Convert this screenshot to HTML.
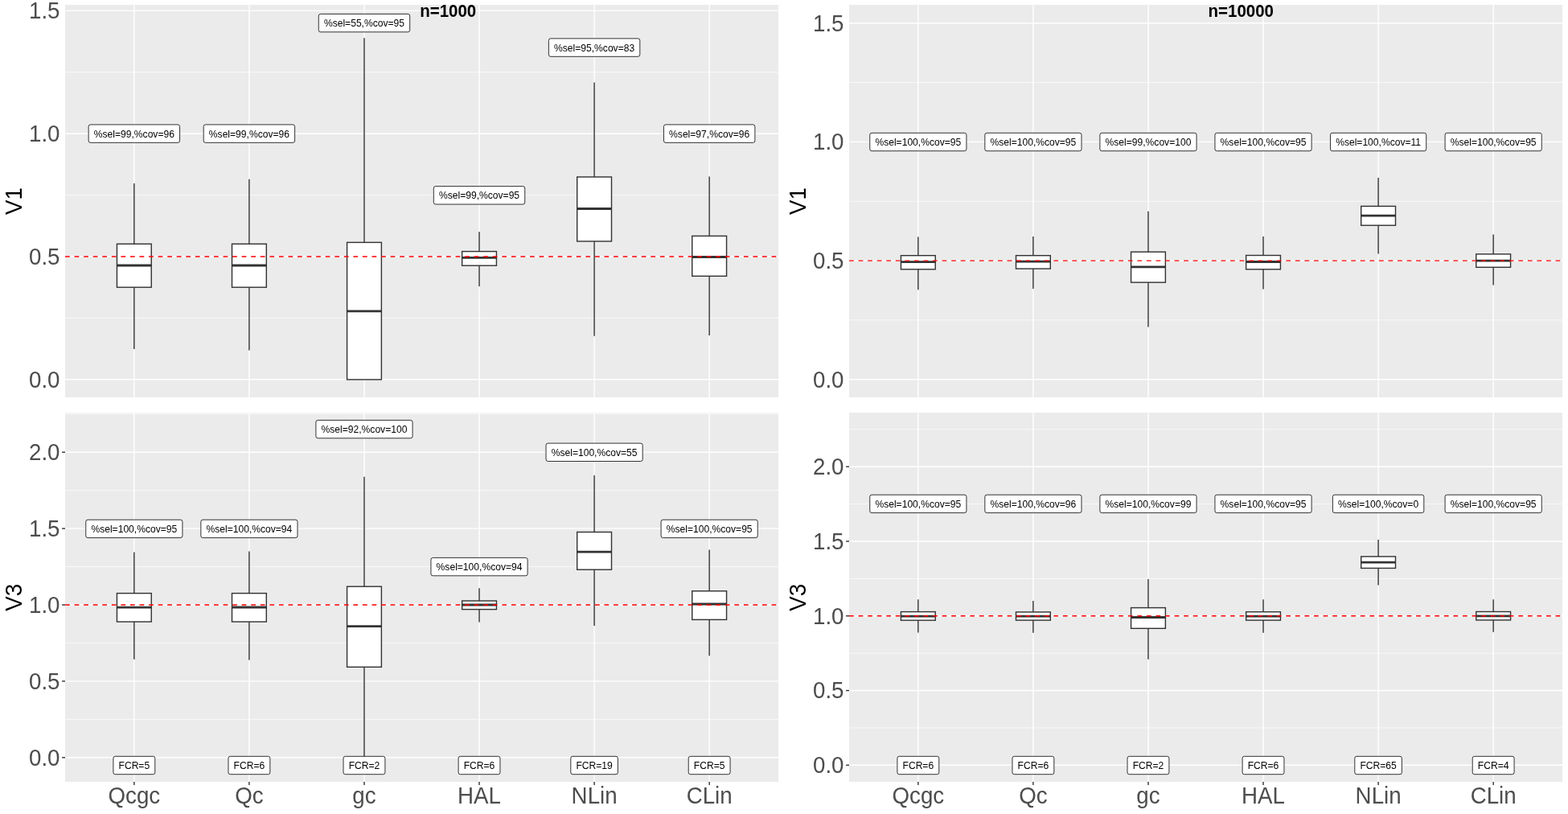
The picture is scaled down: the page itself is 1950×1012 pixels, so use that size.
<!DOCTYPE html><html><head><meta charset="utf-8"><title>Boxplots</title><style>html,body{margin:0;padding:0;background:#fff;}svg{display:block;}text{font-family:"Liberation Sans",Arial,sans-serif;}</style></head><body>
<svg width="1950" height="1012" viewBox="0 0 1950 1012">
<rect x="0" y="0" width="1950" height="1012" fill="#fff"/>
<g>
<rect x="81" y="6" width="887" height="488" fill="#EBEBEB"/>
<svg x="81" y="6" width="887" height="488" viewBox="81 6 887 488" overflow="hidden">
<line x1="81" x2="968" y1="395.4" y2="395.4" stroke="#fff" stroke-width="0.71"/>
<line x1="81" x2="968" y1="242.6" y2="242.6" stroke="#fff" stroke-width="0.71"/>
<line x1="81" x2="968" y1="89.8" y2="89.8" stroke="#fff" stroke-width="0.71"/>
<line x1="81" x2="968" y1="471.8" y2="471.8" stroke="#fff" stroke-width="1.42"/>
<line x1="81" x2="968" y1="319" y2="319" stroke="#fff" stroke-width="1.42"/>
<line x1="81" x2="968" y1="166.2" y2="166.2" stroke="#fff" stroke-width="1.42"/>
<line x1="81" x2="968" y1="13.4" y2="13.4" stroke="#fff" stroke-width="1.42"/>
<line x1="166.84" x2="166.84" y1="6" y2="494" stroke="#fff" stroke-width="1.42"/>
<line x1="309.9" x2="309.9" y1="6" y2="494" stroke="#fff" stroke-width="1.42"/>
<line x1="452.97" x2="452.97" y1="6" y2="494" stroke="#fff" stroke-width="1.42"/>
<line x1="596.03" x2="596.03" y1="6" y2="494" stroke="#fff" stroke-width="1.42"/>
<line x1="739.1" x2="739.1" y1="6" y2="494" stroke="#fff" stroke-width="1.42"/>
<line x1="882.16" x2="882.16" y1="6" y2="494" stroke="#fff" stroke-width="1.42"/>
<line x1="166.84" x2="166.84" y1="228" y2="303.3" stroke="#333" stroke-width="1.42"/>
<line x1="166.84" x2="166.84" y1="357.2" y2="434.1" stroke="#333" stroke-width="1.42"/>
<rect x="145.44" y="303.3" width="42.8" height="53.9" fill="#fff" stroke="#333" stroke-width="1.42"/>
<line x1="145.44" x2="188.24" y1="330" y2="330" stroke="#333" stroke-width="2.84"/>
<line x1="309.9" x2="309.9" y1="222.7" y2="303.3" stroke="#333" stroke-width="1.42"/>
<line x1="309.9" x2="309.9" y1="357.2" y2="435.6" stroke="#333" stroke-width="1.42"/>
<rect x="288.5" y="303.3" width="42.8" height="53.9" fill="#fff" stroke="#333" stroke-width="1.42"/>
<line x1="288.5" x2="331.3" y1="330" y2="330" stroke="#333" stroke-width="2.84"/>
<line x1="452.97" x2="452.97" y1="47.2" y2="301.4" stroke="#333" stroke-width="1.42"/>
<line x1="452.97" x2="452.97" y1="471.9" y2="471.9" stroke="#333" stroke-width="1.42"/>
<rect x="431.57" y="301.4" width="42.8" height="170.5" fill="#fff" stroke="#333" stroke-width="1.42"/>
<line x1="431.57" x2="474.37" y1="386.8" y2="386.8" stroke="#333" stroke-width="2.84"/>
<line x1="596.03" x2="596.03" y1="288.3" y2="312.6" stroke="#333" stroke-width="1.42"/>
<line x1="596.03" x2="596.03" y1="330.2" y2="355.9" stroke="#333" stroke-width="1.42"/>
<rect x="574.63" y="312.6" width="42.8" height="17.6" fill="#fff" stroke="#333" stroke-width="1.42"/>
<line x1="574.63" x2="617.43" y1="320.4" y2="320.4" stroke="#333" stroke-width="2.84"/>
<line x1="739.1" x2="739.1" y1="102.5" y2="220" stroke="#333" stroke-width="1.42"/>
<line x1="739.1" x2="739.1" y1="300" y2="417.7" stroke="#333" stroke-width="1.42"/>
<rect x="717.7" y="220" width="42.8" height="80" fill="#fff" stroke="#333" stroke-width="1.42"/>
<line x1="717.7" x2="760.5" y1="259.5" y2="259.5" stroke="#333" stroke-width="2.84"/>
<line x1="882.16" x2="882.16" y1="219.6" y2="293.4" stroke="#333" stroke-width="1.42"/>
<line x1="882.16" x2="882.16" y1="343.3" y2="417.1" stroke="#333" stroke-width="1.42"/>
<rect x="860.76" y="293.4" width="42.8" height="49.9" fill="#fff" stroke="#333" stroke-width="1.42"/>
<line x1="860.76" x2="903.56" y1="319.5" y2="319.5" stroke="#333" stroke-width="2.84"/>
<line x1="81" x2="968" y1="319" y2="319" stroke="#f00" stroke-width="1.42" stroke-dasharray="5.78 5.78"/>
<rect x="110.13" y="154.95" width="113.43" height="22.4" rx="2.4" ry="2.4" fill="#fff" stroke="#000" stroke-width="0.8"/>
<text transform="translate(166.84 170.55) scale(1 1.045)" font-size="12.1" text-anchor="middle" fill="#000">%sel=99,%cov=96</text>
<rect x="253.19" y="154.95" width="113.43" height="22.4" rx="2.4" ry="2.4" fill="#fff" stroke="#000" stroke-width="0.8"/>
<text transform="translate(309.9 170.55) scale(1 1.045)" font-size="12.1" text-anchor="middle" fill="#000">%sel=99,%cov=96</text>
<rect x="396.25" y="17.4" width="113.43" height="22.4" rx="2.4" ry="2.4" fill="#fff" stroke="#000" stroke-width="0.8"/>
<text transform="translate(452.97 33) scale(1 1.045)" font-size="12.1" text-anchor="middle" fill="#000">%sel=55,%cov=95</text>
<rect x="539.32" y="231.6" width="113.43" height="22.4" rx="2.4" ry="2.4" fill="#fff" stroke="#000" stroke-width="0.8"/>
<text transform="translate(596.03 247.2) scale(1 1.045)" font-size="12.1" text-anchor="middle" fill="#000">%sel=99,%cov=95</text>
<rect x="682.38" y="47.9" width="113.43" height="22.4" rx="2.4" ry="2.4" fill="#fff" stroke="#000" stroke-width="0.8"/>
<text transform="translate(739.1 63.5) scale(1 1.045)" font-size="12.1" text-anchor="middle" fill="#000">%sel=95,%cov=83</text>
<rect x="825.45" y="154.95" width="113.43" height="22.4" rx="2.4" ry="2.4" fill="#fff" stroke="#000" stroke-width="0.8"/>
<text transform="translate(882.16 170.55) scale(1 1.045)" font-size="12.1" text-anchor="middle" fill="#000">%sel=97,%cov=96</text>
</svg>
<text transform="translate(74.5 481.6) scale(1 1.045)" font-size="27.7" text-anchor="end" fill="#4D4D4D">0.0</text>
<text transform="translate(74.5 328.8) scale(1 1.045)" font-size="27.7" text-anchor="end" fill="#4D4D4D">0.5</text>
<text transform="translate(74.5 176) scale(1 1.045)" font-size="27.7" text-anchor="end" fill="#4D4D4D">1.0</text>
<text transform="translate(74.5 23.2) scale(1 1.045)" font-size="27.7" text-anchor="end" fill="#4D4D4D">1.5</text>
</g>
<g>
<rect x="1056" y="6" width="887" height="488" fill="#EBEBEB"/>
<svg x="1056" y="6" width="887" height="488" viewBox="1056 6 887 488" overflow="hidden">
<line x1="1056" x2="1943" y1="397.95" y2="397.95" stroke="#fff" stroke-width="0.71"/>
<line x1="1056" x2="1943" y1="250.25" y2="250.25" stroke="#fff" stroke-width="0.71"/>
<line x1="1056" x2="1943" y1="102.55" y2="102.55" stroke="#fff" stroke-width="0.71"/>
<line x1="1056" x2="1943" y1="471.8" y2="471.8" stroke="#fff" stroke-width="1.42"/>
<line x1="1056" x2="1943" y1="324.1" y2="324.1" stroke="#fff" stroke-width="1.42"/>
<line x1="1056" x2="1943" y1="176.4" y2="176.4" stroke="#fff" stroke-width="1.42"/>
<line x1="1056" x2="1943" y1="28.7" y2="28.7" stroke="#fff" stroke-width="1.42"/>
<line x1="1141.84" x2="1141.84" y1="6" y2="494" stroke="#fff" stroke-width="1.42"/>
<line x1="1284.9" x2="1284.9" y1="6" y2="494" stroke="#fff" stroke-width="1.42"/>
<line x1="1427.97" x2="1427.97" y1="6" y2="494" stroke="#fff" stroke-width="1.42"/>
<line x1="1571.03" x2="1571.03" y1="6" y2="494" stroke="#fff" stroke-width="1.42"/>
<line x1="1714.1" x2="1714.1" y1="6" y2="494" stroke="#fff" stroke-width="1.42"/>
<line x1="1857.16" x2="1857.16" y1="6" y2="494" stroke="#fff" stroke-width="1.42"/>
<line x1="1141.84" x2="1141.84" y1="294.5" y2="317.7" stroke="#333" stroke-width="1.42"/>
<line x1="1141.84" x2="1141.84" y1="334.8" y2="360.2" stroke="#333" stroke-width="1.42"/>
<rect x="1120.44" y="317.7" width="42.8" height="17.1" fill="#fff" stroke="#333" stroke-width="1.42"/>
<line x1="1120.44" x2="1163.24" y1="325.7" y2="325.7" stroke="#333" stroke-width="2.84"/>
<line x1="1284.9" x2="1284.9" y1="293.9" y2="317.7" stroke="#333" stroke-width="1.42"/>
<line x1="1284.9" x2="1284.9" y1="334.1" y2="359.1" stroke="#333" stroke-width="1.42"/>
<rect x="1263.5" y="317.7" width="42.8" height="16.4" fill="#fff" stroke="#333" stroke-width="1.42"/>
<line x1="1263.5" x2="1306.3" y1="325.2" y2="325.2" stroke="#333" stroke-width="2.84"/>
<line x1="1427.97" x2="1427.97" y1="262.8" y2="313.2" stroke="#333" stroke-width="1.42"/>
<line x1="1427.97" x2="1427.97" y1="351.1" y2="406.5" stroke="#333" stroke-width="1.42"/>
<rect x="1406.57" y="313.2" width="42.8" height="37.9" fill="#fff" stroke="#333" stroke-width="1.42"/>
<line x1="1406.57" x2="1449.37" y1="331.9" y2="331.9" stroke="#333" stroke-width="2.84"/>
<line x1="1571.03" x2="1571.03" y1="294.1" y2="317.5" stroke="#333" stroke-width="1.42"/>
<line x1="1571.03" x2="1571.03" y1="334.8" y2="359.5" stroke="#333" stroke-width="1.42"/>
<rect x="1549.63" y="317.5" width="42.8" height="17.3" fill="#fff" stroke="#333" stroke-width="1.42"/>
<line x1="1549.63" x2="1592.43" y1="325.5" y2="325.5" stroke="#333" stroke-width="2.84"/>
<line x1="1714.1" x2="1714.1" y1="221.1" y2="256.4" stroke="#333" stroke-width="1.42"/>
<line x1="1714.1" x2="1714.1" y1="280.2" y2="315.5" stroke="#333" stroke-width="1.42"/>
<rect x="1692.7" y="256.4" width="42.8" height="23.8" fill="#fff" stroke="#333" stroke-width="1.42"/>
<line x1="1692.7" x2="1735.5" y1="268.2" y2="268.2" stroke="#333" stroke-width="2.84"/>
<line x1="1857.16" x2="1857.16" y1="291.4" y2="315.9" stroke="#333" stroke-width="1.42"/>
<line x1="1857.16" x2="1857.16" y1="332.3" y2="354.5" stroke="#333" stroke-width="1.42"/>
<rect x="1835.76" y="315.9" width="42.8" height="16.4" fill="#fff" stroke="#333" stroke-width="1.42"/>
<line x1="1835.76" x2="1878.56" y1="324.1" y2="324.1" stroke="#333" stroke-width="2.84"/>
<line x1="1056" x2="1943" y1="324.1" y2="324.1" stroke="#f00" stroke-width="1.42" stroke-dasharray="5.78 5.78"/>
<rect x="1081.76" y="165.3" width="120.16" height="22.4" rx="2.4" ry="2.4" fill="#fff" stroke="#000" stroke-width="0.8"/>
<text transform="translate(1141.84 180.9) scale(1 1.045)" font-size="12.1" text-anchor="middle" fill="#000">%sel=100,%cov=95</text>
<rect x="1224.83" y="165.3" width="120.16" height="22.4" rx="2.4" ry="2.4" fill="#fff" stroke="#000" stroke-width="0.8"/>
<text transform="translate(1284.9 180.9) scale(1 1.045)" font-size="12.1" text-anchor="middle" fill="#000">%sel=100,%cov=95</text>
<rect x="1367.89" y="165.3" width="120.16" height="22.4" rx="2.4" ry="2.4" fill="#fff" stroke="#000" stroke-width="0.8"/>
<text transform="translate(1427.97 180.9) scale(1 1.045)" font-size="12.1" text-anchor="middle" fill="#000">%sel=99,%cov=100</text>
<rect x="1510.95" y="165.3" width="120.16" height="22.4" rx="2.4" ry="2.4" fill="#fff" stroke="#000" stroke-width="0.8"/>
<text transform="translate(1571.03 180.9) scale(1 1.045)" font-size="12.1" text-anchor="middle" fill="#000">%sel=100,%cov=95</text>
<rect x="1654.47" y="165.3" width="119.26" height="22.4" rx="2.4" ry="2.4" fill="#fff" stroke="#000" stroke-width="0.8"/>
<text transform="translate(1714.1 180.9) scale(1 1.045)" font-size="12.1" text-anchor="middle" fill="#000">%sel=100,%cov=11</text>
<rect x="1797.08" y="165.3" width="120.16" height="22.4" rx="2.4" ry="2.4" fill="#fff" stroke="#000" stroke-width="0.8"/>
<text transform="translate(1857.16 180.9) scale(1 1.045)" font-size="12.1" text-anchor="middle" fill="#000">%sel=100,%cov=95</text>
</svg>
<text transform="translate(1049.5 481.6) scale(1 1.045)" font-size="27.7" text-anchor="end" fill="#4D4D4D">0.0</text>
<text transform="translate(1049.5 333.9) scale(1 1.045)" font-size="27.7" text-anchor="end" fill="#4D4D4D">0.5</text>
<text transform="translate(1049.5 186.2) scale(1 1.045)" font-size="27.7" text-anchor="end" fill="#4D4D4D">1.0</text>
<text transform="translate(1049.5 38.5) scale(1 1.045)" font-size="27.7" text-anchor="end" fill="#4D4D4D">1.5</text>
</g>
<g>
<rect x="81" y="513.4" width="887" height="458.6" fill="#EBEBEB"/>
<svg x="81" y="513.4" width="887" height="458.6" viewBox="81 513.4 887 458.6" overflow="hidden">
<line x1="81" x2="968" y1="894.35" y2="894.35" stroke="#fff" stroke-width="0.71"/>
<line x1="81" x2="968" y1="799.45" y2="799.45" stroke="#fff" stroke-width="0.71"/>
<line x1="81" x2="968" y1="704.55" y2="704.55" stroke="#fff" stroke-width="0.71"/>
<line x1="81" x2="968" y1="609.65" y2="609.65" stroke="#fff" stroke-width="0.71"/>
<line x1="81" x2="968" y1="514.75" y2="514.75" stroke="#fff" stroke-width="0.71"/>
<line x1="81" x2="968" y1="941.8" y2="941.8" stroke="#fff" stroke-width="1.42"/>
<line x1="81" x2="968" y1="846.9" y2="846.9" stroke="#fff" stroke-width="1.42"/>
<line x1="81" x2="968" y1="752" y2="752" stroke="#fff" stroke-width="1.42"/>
<line x1="81" x2="968" y1="657.1" y2="657.1" stroke="#fff" stroke-width="1.42"/>
<line x1="81" x2="968" y1="562.2" y2="562.2" stroke="#fff" stroke-width="1.42"/>
<line x1="166.84" x2="166.84" y1="513.4" y2="972" stroke="#fff" stroke-width="1.42"/>
<line x1="309.9" x2="309.9" y1="513.4" y2="972" stroke="#fff" stroke-width="1.42"/>
<line x1="452.97" x2="452.97" y1="513.4" y2="972" stroke="#fff" stroke-width="1.42"/>
<line x1="596.03" x2="596.03" y1="513.4" y2="972" stroke="#fff" stroke-width="1.42"/>
<line x1="739.1" x2="739.1" y1="513.4" y2="972" stroke="#fff" stroke-width="1.42"/>
<line x1="882.16" x2="882.16" y1="513.4" y2="972" stroke="#fff" stroke-width="1.42"/>
<line x1="166.84" x2="166.84" y1="686.4" y2="737.6" stroke="#333" stroke-width="1.42"/>
<line x1="166.84" x2="166.84" y1="773" y2="819.8" stroke="#333" stroke-width="1.42"/>
<rect x="145.44" y="737.6" width="42.8" height="35.4" fill="#fff" stroke="#333" stroke-width="1.42"/>
<line x1="145.44" x2="188.24" y1="755.2" y2="755.2" stroke="#333" stroke-width="2.84"/>
<line x1="309.9" x2="309.9" y1="685.4" y2="737.6" stroke="#333" stroke-width="1.42"/>
<line x1="309.9" x2="309.9" y1="773" y2="820.4" stroke="#333" stroke-width="1.42"/>
<rect x="288.5" y="737.6" width="42.8" height="35.4" fill="#fff" stroke="#333" stroke-width="1.42"/>
<line x1="288.5" x2="331.3" y1="755" y2="755" stroke="#333" stroke-width="2.84"/>
<line x1="452.97" x2="452.97" y1="592.7" y2="729.2" stroke="#333" stroke-width="1.42"/>
<line x1="452.97" x2="452.97" y1="829.3" y2="942" stroke="#333" stroke-width="1.42"/>
<rect x="431.57" y="729.2" width="42.8" height="100.1" fill="#fff" stroke="#333" stroke-width="1.42"/>
<line x1="431.57" x2="474.37" y1="778.7" y2="778.7" stroke="#333" stroke-width="2.84"/>
<line x1="596.03" x2="596.03" y1="731.2" y2="747" stroke="#333" stroke-width="1.42"/>
<line x1="596.03" x2="596.03" y1="757.6" y2="773.6" stroke="#333" stroke-width="1.42"/>
<rect x="574.63" y="747" width="42.8" height="10.6" fill="#fff" stroke="#333" stroke-width="1.42"/>
<line x1="574.63" x2="617.43" y1="752" y2="752" stroke="#333" stroke-width="2.84"/>
<line x1="739.1" x2="739.1" y1="591" y2="661.5" stroke="#333" stroke-width="1.42"/>
<line x1="739.1" x2="739.1" y1="708.2" y2="778" stroke="#333" stroke-width="1.42"/>
<rect x="717.7" y="661.5" width="42.8" height="46.7" fill="#fff" stroke="#333" stroke-width="1.42"/>
<line x1="717.7" x2="760.5" y1="686.2" y2="686.2" stroke="#333" stroke-width="2.84"/>
<line x1="882.16" x2="882.16" y1="683.4" y2="734.8" stroke="#333" stroke-width="1.42"/>
<line x1="882.16" x2="882.16" y1="770.4" y2="815.3" stroke="#333" stroke-width="1.42"/>
<rect x="860.76" y="734.8" width="42.8" height="35.6" fill="#fff" stroke="#333" stroke-width="1.42"/>
<line x1="860.76" x2="903.56" y1="751" y2="751" stroke="#333" stroke-width="2.84"/>
<line x1="81" x2="968" y1="752" y2="752" stroke="#f00" stroke-width="1.42" stroke-dasharray="5.78 5.78"/>
<rect x="106.76" y="646.2" width="120.16" height="22.4" rx="2.4" ry="2.4" fill="#fff" stroke="#000" stroke-width="0.8"/>
<text transform="translate(166.84 661.8) scale(1 1.045)" font-size="12.1" text-anchor="middle" fill="#000">%sel=100,%cov=95</text>
<rect x="249.83" y="646.2" width="120.16" height="22.4" rx="2.4" ry="2.4" fill="#fff" stroke="#000" stroke-width="0.8"/>
<text transform="translate(309.9 661.8) scale(1 1.045)" font-size="12.1" text-anchor="middle" fill="#000">%sel=100,%cov=94</text>
<rect x="392.89" y="522.4" width="120.16" height="22.4" rx="2.4" ry="2.4" fill="#fff" stroke="#000" stroke-width="0.8"/>
<text transform="translate(452.97 538) scale(1 1.045)" font-size="12.1" text-anchor="middle" fill="#000">%sel=92,%cov=100</text>
<rect x="535.95" y="693.4" width="120.16" height="22.4" rx="2.4" ry="2.4" fill="#fff" stroke="#000" stroke-width="0.8"/>
<text transform="translate(596.03 709) scale(1 1.045)" font-size="12.1" text-anchor="middle" fill="#000">%sel=100,%cov=94</text>
<rect x="679.02" y="551.1" width="120.16" height="22.4" rx="2.4" ry="2.4" fill="#fff" stroke="#000" stroke-width="0.8"/>
<text transform="translate(739.1 566.7) scale(1 1.045)" font-size="12.1" text-anchor="middle" fill="#000">%sel=100,%cov=55</text>
<rect x="822.08" y="646.2" width="120.16" height="22.4" rx="2.4" ry="2.4" fill="#fff" stroke="#000" stroke-width="0.8"/>
<text transform="translate(882.16 661.8) scale(1 1.045)" font-size="12.1" text-anchor="middle" fill="#000">%sel=100,%cov=95</text>
<rect x="140.91" y="940.3" width="51.86" height="22.4" rx="2.4" ry="2.4" fill="#fff" stroke="#000" stroke-width="0.8"/>
<text transform="translate(166.84 955.9) scale(1 1.045)" font-size="12.1" text-anchor="middle" fill="#000">FCR=5</text>
<rect x="283.97" y="940.3" width="51.86" height="22.4" rx="2.4" ry="2.4" fill="#fff" stroke="#000" stroke-width="0.8"/>
<text transform="translate(309.9 955.9) scale(1 1.045)" font-size="12.1" text-anchor="middle" fill="#000">FCR=6</text>
<rect x="427.04" y="940.3" width="51.86" height="22.4" rx="2.4" ry="2.4" fill="#fff" stroke="#000" stroke-width="0.8"/>
<text transform="translate(452.97 955.9) scale(1 1.045)" font-size="12.1" text-anchor="middle" fill="#000">FCR=2</text>
<rect x="570.1" y="940.3" width="51.86" height="22.4" rx="2.4" ry="2.4" fill="#fff" stroke="#000" stroke-width="0.8"/>
<text transform="translate(596.03 955.9) scale(1 1.045)" font-size="12.1" text-anchor="middle" fill="#000">FCR=6</text>
<rect x="709.8" y="940.3" width="58.59" height="22.4" rx="2.4" ry="2.4" fill="#fff" stroke="#000" stroke-width="0.8"/>
<text transform="translate(739.1 955.9) scale(1 1.045)" font-size="12.1" text-anchor="middle" fill="#000">FCR=19</text>
<rect x="856.23" y="940.3" width="51.86" height="22.4" rx="2.4" ry="2.4" fill="#fff" stroke="#000" stroke-width="0.8"/>
<text transform="translate(882.16 955.9) scale(1 1.045)" font-size="12.1" text-anchor="middle" fill="#000">FCR=5</text>
</svg>
<text transform="translate(74.5 951.6) scale(1 1.045)" font-size="27.7" text-anchor="end" fill="#4D4D4D">0.0</text>
<line x1="77.1" x2="81" y1="941.8" y2="941.8" stroke="#333" stroke-width="1.42"/>
<text transform="translate(74.5 856.7) scale(1 1.045)" font-size="27.7" text-anchor="end" fill="#4D4D4D">0.5</text>
<line x1="77.1" x2="81" y1="846.9" y2="846.9" stroke="#333" stroke-width="1.42"/>
<text transform="translate(74.5 761.8) scale(1 1.045)" font-size="27.7" text-anchor="end" fill="#4D4D4D">1.0</text>
<line x1="77.1" x2="81" y1="752" y2="752" stroke="#333" stroke-width="1.42"/>
<text transform="translate(74.5 666.9) scale(1 1.045)" font-size="27.7" text-anchor="end" fill="#4D4D4D">1.5</text>
<line x1="77.1" x2="81" y1="657.1" y2="657.1" stroke="#333" stroke-width="1.42"/>
<text transform="translate(74.5 572) scale(1 1.045)" font-size="27.7" text-anchor="end" fill="#4D4D4D">2.0</text>
<line x1="77.1" x2="81" y1="562.2" y2="562.2" stroke="#333" stroke-width="1.42"/>
<line x1="166.84" x2="166.84" y1="972" y2="975.9" stroke="#333" stroke-width="1.42"/>
<line x1="309.9" x2="309.9" y1="972" y2="975.9" stroke="#333" stroke-width="1.42"/>
<line x1="452.97" x2="452.97" y1="972" y2="975.9" stroke="#333" stroke-width="1.42"/>
<line x1="596.03" x2="596.03" y1="972" y2="975.9" stroke="#333" stroke-width="1.42"/>
<line x1="739.1" x2="739.1" y1="972" y2="975.9" stroke="#333" stroke-width="1.42"/>
<line x1="882.16" x2="882.16" y1="972" y2="975.9" stroke="#333" stroke-width="1.42"/>
<text transform="translate(166.84 998.5) scale(1 1.045)" font-size="27.7" text-anchor="middle" fill="#4D4D4D">Qcgc</text>
<text transform="translate(309.9 998.5) scale(1 1.045)" font-size="27.7" text-anchor="middle" fill="#4D4D4D">Qc</text>
<text transform="translate(452.97 998.5) scale(1 1.045)" font-size="27.7" text-anchor="middle" fill="#4D4D4D">gc</text>
<text transform="translate(596.03 998.5) scale(1 1.045)" font-size="27.7" text-anchor="middle" fill="#4D4D4D">HAL</text>
<text transform="translate(739.1 998.5) scale(1 1.045)" font-size="27.7" text-anchor="middle" fill="#4D4D4D">NLin</text>
<text transform="translate(882.16 998.5) scale(1 1.045)" font-size="27.7" text-anchor="middle" fill="#4D4D4D">CLin</text>
</g>
<g>
<rect x="1056" y="513" width="887" height="459" fill="#EBEBEB"/>
<svg x="1056" y="513" width="887" height="459" viewBox="1056 513 887 459" overflow="hidden">
<line x1="1056" x2="1943" y1="904.91" y2="904.91" stroke="#fff" stroke-width="0.71"/>
<line x1="1056" x2="1943" y1="812.14" y2="812.14" stroke="#fff" stroke-width="0.71"/>
<line x1="1056" x2="1943" y1="719.36" y2="719.36" stroke="#fff" stroke-width="0.71"/>
<line x1="1056" x2="1943" y1="626.59" y2="626.59" stroke="#fff" stroke-width="0.71"/>
<line x1="1056" x2="1943" y1="533.81" y2="533.81" stroke="#fff" stroke-width="0.71"/>
<line x1="1056" x2="1943" y1="951.3" y2="951.3" stroke="#fff" stroke-width="1.42"/>
<line x1="1056" x2="1943" y1="858.52" y2="858.52" stroke="#fff" stroke-width="1.42"/>
<line x1="1056" x2="1943" y1="765.75" y2="765.75" stroke="#fff" stroke-width="1.42"/>
<line x1="1056" x2="1943" y1="672.97" y2="672.97" stroke="#fff" stroke-width="1.42"/>
<line x1="1056" x2="1943" y1="580.2" y2="580.2" stroke="#fff" stroke-width="1.42"/>
<line x1="1141.84" x2="1141.84" y1="513" y2="972" stroke="#fff" stroke-width="1.42"/>
<line x1="1284.9" x2="1284.9" y1="513" y2="972" stroke="#fff" stroke-width="1.42"/>
<line x1="1427.97" x2="1427.97" y1="513" y2="972" stroke="#fff" stroke-width="1.42"/>
<line x1="1571.03" x2="1571.03" y1="513" y2="972" stroke="#fff" stroke-width="1.42"/>
<line x1="1714.1" x2="1714.1" y1="513" y2="972" stroke="#fff" stroke-width="1.42"/>
<line x1="1857.16" x2="1857.16" y1="513" y2="972" stroke="#fff" stroke-width="1.42"/>
<line x1="1141.84" x2="1141.84" y1="745.3" y2="760.6" stroke="#333" stroke-width="1.42"/>
<line x1="1141.84" x2="1141.84" y1="771.2" y2="786.5" stroke="#333" stroke-width="1.42"/>
<rect x="1120.44" y="760.6" width="42.8" height="10.6" fill="#fff" stroke="#333" stroke-width="1.42"/>
<line x1="1120.44" x2="1163.24" y1="766.1" y2="766.1" stroke="#333" stroke-width="2.84"/>
<line x1="1284.9" x2="1284.9" y1="747.1" y2="760.9" stroke="#333" stroke-width="1.42"/>
<line x1="1284.9" x2="1284.9" y1="771.1" y2="786.7" stroke="#333" stroke-width="1.42"/>
<rect x="1263.5" y="760.9" width="42.8" height="10.2" fill="#fff" stroke="#333" stroke-width="1.42"/>
<line x1="1263.5" x2="1306.3" y1="766.1" y2="766.1" stroke="#333" stroke-width="2.84"/>
<line x1="1427.97" x2="1427.97" y1="720.1" y2="755.6" stroke="#333" stroke-width="1.42"/>
<line x1="1427.97" x2="1427.97" y1="781.3" y2="819.7" stroke="#333" stroke-width="1.42"/>
<rect x="1406.57" y="755.6" width="42.8" height="25.7" fill="#fff" stroke="#333" stroke-width="1.42"/>
<line x1="1406.57" x2="1449.37" y1="767.5" y2="767.5" stroke="#333" stroke-width="2.84"/>
<line x1="1571.03" x2="1571.03" y1="745.3" y2="760.7" stroke="#333" stroke-width="1.42"/>
<line x1="1571.03" x2="1571.03" y1="771.1" y2="786.7" stroke="#333" stroke-width="1.42"/>
<rect x="1549.63" y="760.7" width="42.8" height="10.4" fill="#fff" stroke="#333" stroke-width="1.42"/>
<line x1="1549.63" x2="1592.43" y1="766.1" y2="766.1" stroke="#333" stroke-width="2.84"/>
<line x1="1714.1" x2="1714.1" y1="670.9" y2="691.9" stroke="#333" stroke-width="1.42"/>
<line x1="1714.1" x2="1714.1" y1="706.4" y2="727.6" stroke="#333" stroke-width="1.42"/>
<rect x="1692.7" y="691.9" width="42.8" height="14.5" fill="#fff" stroke="#333" stroke-width="1.42"/>
<line x1="1692.7" x2="1735.5" y1="699.1" y2="699.1" stroke="#333" stroke-width="2.84"/>
<line x1="1857.16" x2="1857.16" y1="745.2" y2="760.5" stroke="#333" stroke-width="1.42"/>
<line x1="1857.16" x2="1857.16" y1="770.9" y2="785.8" stroke="#333" stroke-width="1.42"/>
<rect x="1835.76" y="760.5" width="42.8" height="10.4" fill="#fff" stroke="#333" stroke-width="1.42"/>
<line x1="1835.76" x2="1878.56" y1="765.8" y2="765.8" stroke="#333" stroke-width="2.84"/>
<line x1="1056" x2="1943" y1="765.75" y2="765.75" stroke="#f00" stroke-width="1.42" stroke-dasharray="5.78 5.78"/>
<rect x="1081.76" y="615.2" width="120.16" height="22.4" rx="2.4" ry="2.4" fill="#fff" stroke="#000" stroke-width="0.8"/>
<text transform="translate(1141.84 630.8) scale(1 1.045)" font-size="12.1" text-anchor="middle" fill="#000">%sel=100,%cov=95</text>
<rect x="1224.83" y="615.2" width="120.16" height="22.4" rx="2.4" ry="2.4" fill="#fff" stroke="#000" stroke-width="0.8"/>
<text transform="translate(1284.9 630.8) scale(1 1.045)" font-size="12.1" text-anchor="middle" fill="#000">%sel=100,%cov=96</text>
<rect x="1367.89" y="615.2" width="120.16" height="22.4" rx="2.4" ry="2.4" fill="#fff" stroke="#000" stroke-width="0.8"/>
<text transform="translate(1427.97 630.8) scale(1 1.045)" font-size="12.1" text-anchor="middle" fill="#000">%sel=100,%cov=99</text>
<rect x="1510.95" y="615.2" width="120.16" height="22.4" rx="2.4" ry="2.4" fill="#fff" stroke="#000" stroke-width="0.8"/>
<text transform="translate(1571.03 630.8) scale(1 1.045)" font-size="12.1" text-anchor="middle" fill="#000">%sel=100,%cov=95</text>
<rect x="1657.38" y="615.2" width="113.43" height="22.4" rx="2.4" ry="2.4" fill="#fff" stroke="#000" stroke-width="0.8"/>
<text transform="translate(1714.1 630.8) scale(1 1.045)" font-size="12.1" text-anchor="middle" fill="#000">%sel=100,%cov=0</text>
<rect x="1797.08" y="615.2" width="120.16" height="22.4" rx="2.4" ry="2.4" fill="#fff" stroke="#000" stroke-width="0.8"/>
<text transform="translate(1857.16 630.8) scale(1 1.045)" font-size="12.1" text-anchor="middle" fill="#000">%sel=100,%cov=95</text>
<rect x="1115.91" y="940.3" width="51.86" height="22.4" rx="2.4" ry="2.4" fill="#fff" stroke="#000" stroke-width="0.8"/>
<text transform="translate(1141.84 955.9) scale(1 1.045)" font-size="12.1" text-anchor="middle" fill="#000">FCR=6</text>
<rect x="1258.97" y="940.3" width="51.86" height="22.4" rx="2.4" ry="2.4" fill="#fff" stroke="#000" stroke-width="0.8"/>
<text transform="translate(1284.9 955.9) scale(1 1.045)" font-size="12.1" text-anchor="middle" fill="#000">FCR=6</text>
<rect x="1402.04" y="940.3" width="51.86" height="22.4" rx="2.4" ry="2.4" fill="#fff" stroke="#000" stroke-width="0.8"/>
<text transform="translate(1427.97 955.9) scale(1 1.045)" font-size="12.1" text-anchor="middle" fill="#000">FCR=2</text>
<rect x="1545.1" y="940.3" width="51.86" height="22.4" rx="2.4" ry="2.4" fill="#fff" stroke="#000" stroke-width="0.8"/>
<text transform="translate(1571.03 955.9) scale(1 1.045)" font-size="12.1" text-anchor="middle" fill="#000">FCR=6</text>
<rect x="1684.8" y="940.3" width="58.59" height="22.4" rx="2.4" ry="2.4" fill="#fff" stroke="#000" stroke-width="0.8"/>
<text transform="translate(1714.1 955.9) scale(1 1.045)" font-size="12.1" text-anchor="middle" fill="#000">FCR=65</text>
<rect x="1831.23" y="940.3" width="51.86" height="22.4" rx="2.4" ry="2.4" fill="#fff" stroke="#000" stroke-width="0.8"/>
<text transform="translate(1857.16 955.9) scale(1 1.045)" font-size="12.1" text-anchor="middle" fill="#000">FCR=4</text>
</svg>
<text transform="translate(1049.5 961.1) scale(1 1.045)" font-size="27.7" text-anchor="end" fill="#4D4D4D">0.0</text>
<line x1="1052.1" x2="1056" y1="951.3" y2="951.3" stroke="#333" stroke-width="1.42"/>
<text transform="translate(1049.5 868.32) scale(1 1.045)" font-size="27.7" text-anchor="end" fill="#4D4D4D">0.5</text>
<line x1="1052.1" x2="1056" y1="858.52" y2="858.52" stroke="#333" stroke-width="1.42"/>
<text transform="translate(1049.5 775.55) scale(1 1.045)" font-size="27.7" text-anchor="end" fill="#4D4D4D">1.0</text>
<line x1="1052.1" x2="1056" y1="765.75" y2="765.75" stroke="#333" stroke-width="1.42"/>
<text transform="translate(1049.5 682.77) scale(1 1.045)" font-size="27.7" text-anchor="end" fill="#4D4D4D">1.5</text>
<line x1="1052.1" x2="1056" y1="672.97" y2="672.97" stroke="#333" stroke-width="1.42"/>
<text transform="translate(1049.5 590) scale(1 1.045)" font-size="27.7" text-anchor="end" fill="#4D4D4D">2.0</text>
<line x1="1052.1" x2="1056" y1="580.2" y2="580.2" stroke="#333" stroke-width="1.42"/>
<line x1="1141.84" x2="1141.84" y1="972" y2="975.9" stroke="#333" stroke-width="1.42"/>
<line x1="1284.9" x2="1284.9" y1="972" y2="975.9" stroke="#333" stroke-width="1.42"/>
<line x1="1427.97" x2="1427.97" y1="972" y2="975.9" stroke="#333" stroke-width="1.42"/>
<line x1="1571.03" x2="1571.03" y1="972" y2="975.9" stroke="#333" stroke-width="1.42"/>
<line x1="1714.1" x2="1714.1" y1="972" y2="975.9" stroke="#333" stroke-width="1.42"/>
<line x1="1857.16" x2="1857.16" y1="972" y2="975.9" stroke="#333" stroke-width="1.42"/>
<text transform="translate(1141.84 998.5) scale(1 1.045)" font-size="27.7" text-anchor="middle" fill="#4D4D4D">Qcgc</text>
<text transform="translate(1284.9 998.5) scale(1 1.045)" font-size="27.7" text-anchor="middle" fill="#4D4D4D">Qc</text>
<text transform="translate(1427.97 998.5) scale(1 1.045)" font-size="27.7" text-anchor="middle" fill="#4D4D4D">gc</text>
<text transform="translate(1571.03 998.5) scale(1 1.045)" font-size="27.7" text-anchor="middle" fill="#4D4D4D">HAL</text>
<text transform="translate(1714.1 998.5) scale(1 1.045)" font-size="27.7" text-anchor="middle" fill="#4D4D4D">NLin</text>
<text transform="translate(1857.16 998.5) scale(1 1.045)" font-size="27.7" text-anchor="middle" fill="#4D4D4D">CLin</text>
</g>
<text transform="translate(27 250) rotate(-90) scale(1 1.045)" font-size="27.7" text-anchor="middle" fill="#000">V1</text>
<text transform="translate(1002 250) rotate(-90) scale(1 1.045)" font-size="27.7" text-anchor="middle" fill="#000">V1</text>
<text transform="translate(27 742.7) rotate(-90) scale(1 1.045)" font-size="27.7" text-anchor="middle" fill="#000">V3</text>
<text transform="translate(1002 742.7) rotate(-90) scale(1 1.045)" font-size="27.7" text-anchor="middle" fill="#000">V3</text>
<text transform="translate(557.2 20.9) scale(1 1.045)" font-size="20.5" text-anchor="middle" fill="#000" font-weight="bold">n=1000</text>
<text transform="translate(1543.3 20.9) scale(1 1.045)" font-size="20.5" text-anchor="middle" fill="#000" font-weight="bold">n=10000</text>
</svg></body></html>
